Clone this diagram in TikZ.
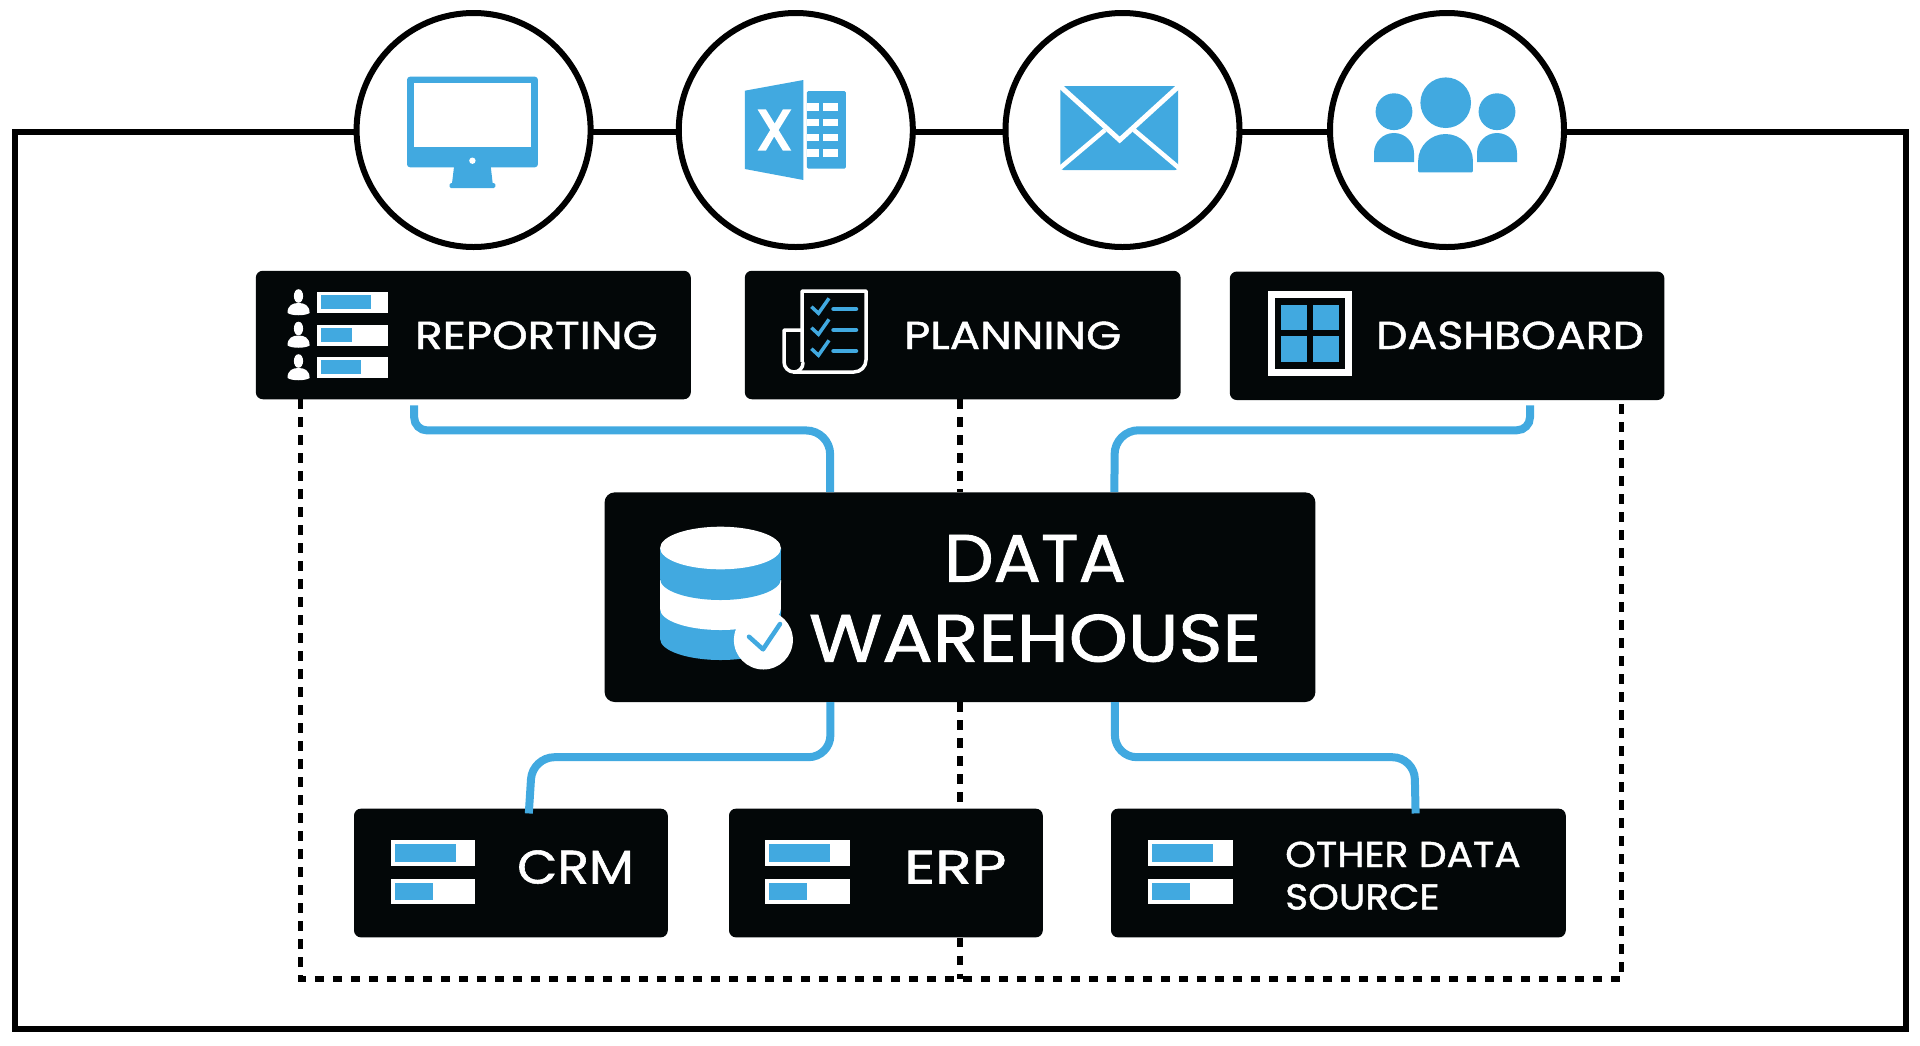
\documentclass[tikz,border=0pt]{standalone}
\usepackage{fontspec}
\usepackage{graphicx}
\setmainfont{Poppins}[FakeBold=1.2]
\newfontfamily\markfont{Poppins}[FakeBold=4]
\usetikzlibrary{calc}
\definecolor{boxblack}{HTML}{030708}
\definecolor{iconblue}{HTML}{41A9E0}
\newcommand{\wide}[2]{\scalebox{#1}[1]{#2}}
\tikzset{
    frameline/.style={draw=black, line width=6pt, fill=none, minimum width=1891pt,
        minimum height=897pt, inner sep=0pt},
    ring/.style={circle, draw=black, fill=white, line width=6pt, minimum size=234pt, inner sep=0pt},
    darkbox/.style={draw=none, fill=boxblack, rounded corners=7pt, inner sep=0pt},
    lbl/.style={text=white, inner sep=0pt, align=left, anchor=base west},
    link/.style={draw=iconblue, line width=8pt},
    dotline/.style={draw=black, line width=5.5pt, dash pattern=on 9.5pt off 8.5pt},
    blueicon/.style={fill=iconblue, draw=none},
    whitepart/.style={fill=white, draw=none},
    outline/.style={draw=white, line width=3.5pt, fill=none, line join=round},
    tick/.style={draw=iconblue, line width=3.5pt, fill=none},
}
\begin{document}
\begin{tikzpicture}[x=1pt, y=-1pt]
    \useasboundingbox (0,0) rectangle (1920,1045);

    % Outer frame
    \node[frameline] (frame) at (960,580) {};

    % Circles on the frame
    \node[ring] (screenRing) at (473.6,130) {};
    \node[ring] (excelRing) at (795.8,130) {};
    \node[ring] (mailRing) at (1122.5,130) {};
    \node[ring] (peopleRing) at (1447,130) {};

    % Boxes
    \node[darkbox, minimum width=435pt, minimum height=128.5pt] (reporting) at (473.3,335) {};
    \node[darkbox, minimum width=435.8pt, minimum height=128.5pt] (planning) at (962.7,335) {};
    \node[darkbox, minimum width=434.6pt, minimum height=128.5pt] (dashboard) at (1447.1,335.8) {};
    \node[darkbox, minimum width=710.8pt, minimum height=209.6pt, rounded corners=10pt] (warehouse) at (960,597.2) {};
    \node[darkbox, minimum width=313.8pt, minimum height=128.7pt] (crm) at (510.9,873) {};
    \node[darkbox, minimum width=313.8pt, minimum height=128.7pt] (erp) at (885.9,873) {};
    \node[darkbox, minimum width=454.8pt, minimum height=128.7pt] (other) at (1338.4,873) {};

    % Dotted lines
    \coordinate (botL) at (300.5,979);
    \coordinate (botM) at (959.8,979);
    \coordinate (botR) at (1621.5,979);
    \draw[dotline] (reporting.south -| botL) -- (botL) -- (botR) -- (dashboard.south -| botR);
    \draw[dotline] (planning.south -| botM) -- (warehouse.north -| botM);
    \draw[dotline] (warehouse.south -| botM) -- (erp.north -| botM);
    \draw[dotline] (erp.south -| botM) -- (botM);

    % Blue links
    \draw[link] ([xshift=158.6pt,yshift=-6pt]reporting.south west) [rounded corners=13pt] -- ++(0,25) [rounded corners=24pt] -- ++(416,0) -- ([xshift=225.7pt]warehouse.north west);
    \draw[link] ([xshift=300.4pt,yshift=-5pt]dashboard.south west) [rounded corners=13pt] -- ++(0,25) [rounded corners=24pt] -- ++(-415.3,0) -- ([xshift=510pt]warehouse.north west);
    \draw[link, rounded corners=22pt] ([xshift=226pt]warehouse.south west) -- ++(0,55) -- ++(-298,0) -- ([xshift=175pt,yshift=-5pt]crm.north west);
    \draw[link, rounded corners=22pt] ([xshift=510.5pt]warehouse.south west) -- ++(0,55) -- ++(299.5,0) -- ([xshift=304.8pt,yshift=-5pt]other.north west);

    % Monitor
    \fill[blueicon, rounded corners=3pt] (407,76.7) rectangle (537.9,167.3);
    \fill[whitepart] (413.5,83.3) rectangle (531.4,146.7);
    \fill[whitepart] (472.4,160.7) circle[radius=3.2pt];
    \fill[blueicon] (454,167) -- (490.8,167) -- (492.7,183.5) -- (452,183.5) -- cycle;
    \fill[blueicon, rounded corners=1.5pt] (449.5,183) rectangle (495.4,188);

    % Spreadsheet
    \fill[blueicon] (744.9,90.7) -- (803.4,80) -- (803.4,180) -- (744.9,169) -- cycle;
    \fill[blueicon, rounded corners=1.5pt] (806.9,91) rectangle (845.9,168.7);
    \foreach \y in {103.3,118.7,134,149.3} {
        \fill[whitepart] (806.9,\y) rectangle ++(11.8,7.4);
        \fill[whitepart] (822.6,\y) rectangle ++(15.3,7.4);
    }
    \node[text=white, font=\fontsize{56}{56}\selectfont\markfont, inner sep=0pt] (excelX) at (774.4,130) {X};

    % Envelope
    \fill[blueicon, rounded corners=3pt] (1060.4,86) rectangle (1178.2,170);
    \draw[white, line width=5pt] (1060,86) -- (1119.7,140) -- (1179,86);
    \draw[white, line width=4.5pt] (1060,168) -- (1105,130);
    \draw[white, line width=4.5pt] (1179,168) -- (1134,130);

    % People
    \foreach \cx in {1394,1497} {
        \fill[blueicon] (\cx,111.7) circle[radius=18.4pt];
        \fill[blueicon] (\cx-20,162) -- (\cx-20,153) arc[start angle=180, end angle=0, radius=20pt] -- (\cx+20,162) -- cycle;
    }
    \fill[blueicon] (1445.7,102.7) circle[radius=25.3pt];
    \fill[blueicon, rounded corners=1pt] (1418.2,172.3) -- (1418.2,161.5) arc[start angle=180, end angle=0, x radius=27.35pt, y radius=27.5pt] -- (1472.9,172.3) -- cycle;

    % Reporting icon
    \foreach \dy/\len in {0/50.6,32.5/31.2,65/40.3} {
        \fill[whitepart] (317.1,292+\dy) rectangle (387.9,313.3+\dy);
        \fill[blueicon] (320.7,295.3+\dy) rectangle ++(\len,14);
        \fill[whitepart] (298.5,296+\dy) ellipse[x radius=4.6pt, y radius=6.8pt];
        \fill[whitepart] (287.5,313+\dy) .. controls (287.5,305+\dy) and (293,303+\dy) .. (298.5,303+\dy) .. controls (304,303+\dy) and (309.6,305+\dy) .. (309.6,313+\dy) .. controls (305,316+\dy) and (292,316+\dy) .. (287.5,313+\dy) -- cycle;
    }
    \node[lbl, font=\fontsize{39}{46}\selectfont] (reportingText) at (415,349) {\wide{1.16}{REPORTING}};

    % Planning icon
    \draw[outline] (802,362) -- (802,291) -- (866,291) -- (866,360) arc[start angle=0, end angle=-90, radius=12pt] -- (793,372);
    \draw[outline] (802,330) -- (784,330) -- (784,362) arc[start angle=180, end angle=270, radius=10pt] arc[start angle=270, end angle=360, radius=9pt] -- (802,362);
    \foreach \dy in {0,21,42} {
        \draw[tick] (811.4,306.7+\dy) -- (818.5,313.3+\dy) -- (829,298.3+\dy);
        \draw[iconblue, line width=4.5pt, line cap=round] (833.5,309+\dy) -- (856,309+\dy);
    }
    \node[lbl, font=\fontsize{39}{46}\selectfont] (planningText) at (904,349) {\wide{1.155}{PLANNING}};

    % Dashboard icon
    \fill[whitepart] (1267.6,291.3) rectangle (1352,375.7);
    \fill[boxblack] (1274.8,298.3) rectangle (1344.9,368.7);
    \foreach \x in {1281.4,1313} {
        \foreach \y in {305,336.3} {
            \fill[blueicon] (\x,\y) rectangle ++(25.8,25.2);
        }
    }
    \node[lbl, font=\fontsize{39}{46}\selectfont] (dashboardText) at (1376,349) {\wide{1.135}{DASHBOARD}};

    % Database icon
    \foreach \top/\low/\col in {610/639/iconblue,580/609/white,548/579/iconblue} {
        \fill[\col] (660.1,\top) -- (660.1,\low) arc[start angle=180, end angle=360, x radius=60.4pt, y radius=21pt] -- (781,\top) -- cycle;
    }
    \fill[whitepart] (720.5,548) ellipse[x radius=60.4pt, y radius=21.3pt];
    \fill[whitepart] (763.4,640) circle[radius=29.5pt];
    \draw[iconblue, line width=4.5pt, line join=round, line cap=round] (749,636.7) -- (763,649.3) -- (780,624);
    \node[text=white, inner sep=0pt, align=center, font=\fontsize{67}{80}\selectfont] (warehouseText) at (1035,598.5) {\wide{1.045}{DATA}\\\wide{1.12}{WAREHOUSE}};

    % Source bars
    \foreach \x/\a/\b in {390.7/61.2/37.8,765.2/61.2/37.8,1148/61/38} {
        \fill[whitepart] (\x,840) rectangle ++(84.7,25.7);
        \fill[whitepart] (\x,879) rectangle ++(84.7,25.3);
        \fill[blueicon] (\x+4,844) rectangle ++(\a,17.7);
        \fill[blueicon] (\x+4,883) rectangle ++(\b,17.3);
    }
    \node[lbl, font=\fontsize{47}{56}\selectfont] (crmText) at (517,883.5) {\wide{1.107}{CRM}};
    \node[lbl, font=\fontsize{47}{56}\selectfont] (erpText) at (904,883.5) {\wide{1.28}{ERP}};
    \node[lbl, font=\fontsize{36}{42.5}\selectfont] (otherText) at (1285,909.5) {\wide{1.09}{OTHER DATA}\\\wide{1.087}{SOURCE}};
\end{tikzpicture}
\end{document}
